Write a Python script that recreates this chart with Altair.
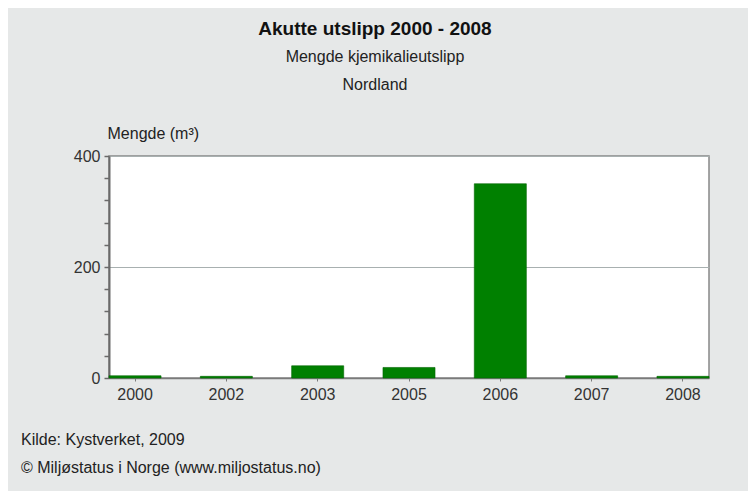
import altair as alt
import pandas as pd

years = ["2000", "2002", "2003", "2005", "2006", "2007", "2008"]
amounts = [4, 3, 22, 19, 350, 4, 3]
title_text = "Akutte utslipp 2000 - 2008"
subtitle_lines = ["Mengde kjemikalieutslipp", "Nordland"]
y_title = "Mengde (m³)"
footer_lines = ["Kilde: Kystverket, 2009", "© Miljøstatus i Norge (www.miljostatus.no)"]
y_ticks = [0, 40, 80, 120, 160, 200, 240, 280, 320, 360, 400]

df = pd.DataFrame({"year": years, "amount": amounts})
FONT = "Liberation Sans"

bars = alt.Chart(df).mark_bar(color="#008000", stroke="#006400", strokeWidth=0.6).encode(
    x=alt.X("year:N", sort=years, title=None,
            scale=alt.Scale(paddingInner=0.43, paddingOuter=0),
            axis=alt.Axis(labelAngle=0, tickSize=3, labelPadding=5, labelFontSize=16,
                          labelFont=FONT, labelColor="#333333", domainColor="#7a7a7a",
                          tickColor="#7a7a7a", domainWidth=1.5, grid=False)),
    y=alt.Y("amount:Q", title=y_title,
            scale=alt.Scale(domain=[0, 400], nice=False),
            axis=alt.Axis(values=y_ticks,
                          labelExpr="datum.value % 200 == 0 ? datum.label : ''",
                          labelFontSize=16, labelFont=FONT, labelColor="#333333",
                          labelPadding=4, tickSize=5, tickColor="#6a6a6a", tickWidth=1.5,
                          domainColor="#6a6a6a", domainWidth=2,
                          grid=True, gridColor="#a8b0b0", gridWidth=1.2,
                          gridOpacity={"expr": "datum.value % 200 == 0 && datum.value > 0 ? 1 : 0"},
                          titleAngle=0, titleAlign="left", titleBaseline="alphabetic",
                          titleX=-2, titleY=-18, titleFontSize=16, titleFontWeight="normal",
                          titleFont=FONT, titleColor="#222222")),
)

foot1 = alt.Chart(pd.DataFrame({"t": [footer_lines[0]]})).mark_text(
    align="left", baseline="alphabetic", fontSize=16, font=FONT, color="#222222"
).encode(text="t:N", x=alt.value(-88), y=alt.value(289))

foot2 = alt.Chart(pd.DataFrame({"t": [footer_lines[1]]})).mark_text(
    align="left", baseline="alphabetic", fontSize=16, font=FONT, color="#222222"
).encode(text="t:N", x=alt.value(-88), y=alt.value(317))

chart = alt.layer(bars, foot1, foot2).properties(
    width=600, height=222,
    padding={"left": 101, "top": 148, "right": 39, "bottom": 113},
    autosize="none",
    background="#e6e8e8",
    title=alt.TitleParams(
        text=title_text, subtitle=subtitle_lines,
        anchor="middle", frame="group", dx=-34,
        font=FONT, fontSize=19, fontWeight="bold", color="#111111",
        subtitleFont=FONT, subtitleFontSize=16, subtitleColor="#222222",
        subtitleLineHeight=28, subtitlePadding=10, offset=32,
    ),
).configure_view(fill="white", stroke="#888888", strokeWidth=1.5)

chart.save("out.html", embed_options={"renderer": "svg", "actions": False})
